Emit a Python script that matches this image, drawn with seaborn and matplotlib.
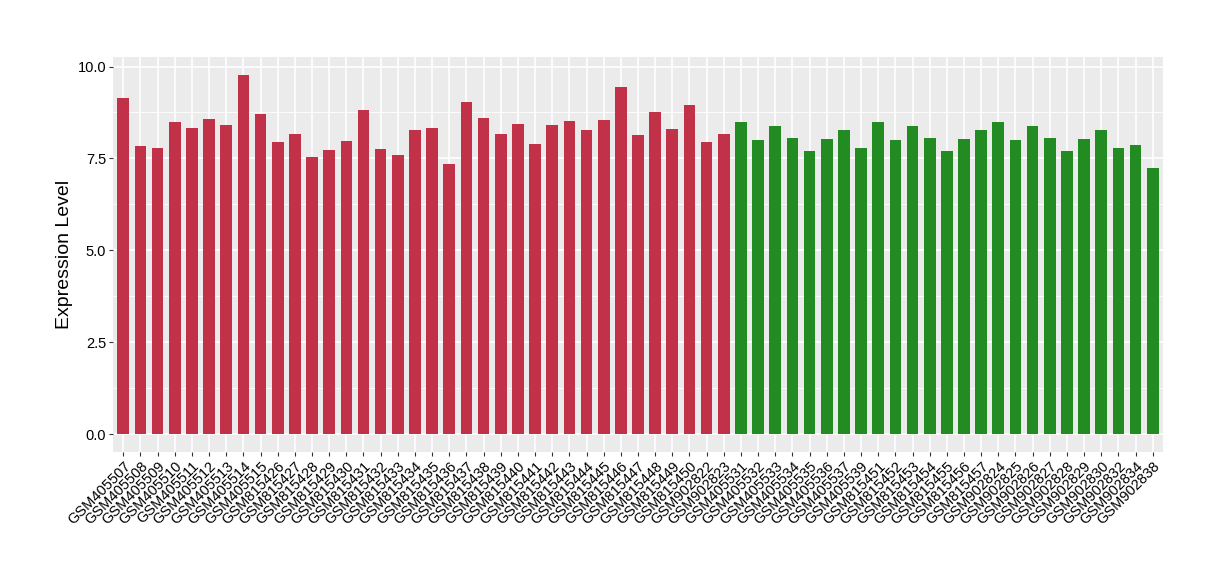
import matplotlib
matplotlib.use("Agg")
import matplotlib.pyplot as plt
import seaborn as sns
import pandas as pd
import numpy as np

# Samples (two groups)
group1_samples = [
    "GSM405507", "GSM405508", "GSM405509", "GSM405510", "GSM405511", "GSM405512",
    "GSM405513", "GSM405514", "GSM405515", "GSM815426", "GSM815427", "GSM815428",
    "GSM815429", "GSM815430", "GSM815431", "GSM815432", "GSM815433", "GSM815434",
    "GSM815435", "GSM815436", "GSM815437", "GSM815438", "GSM815439", "GSM815440",
    "GSM815441", "GSM815442", "GSM815443", "GSM815444", "GSM815445", "GSM815446",
    "GSM815447", "GSM815448", "GSM815449", "GSM815450", "GSM902822", "GSM902823",
]
group1_values = [
    9.15, 7.84, 7.79, 8.50, 8.33, 8.58, 8.41, 9.77, 8.71, 7.95, 8.17, 7.55,
    7.74, 7.98, 8.82, 7.76, 7.60, 8.28, 8.33, 7.36, 9.04, 8.61, 8.17, 8.44,
    7.90, 8.41, 8.52, 8.28, 8.55, 9.45, 8.14, 8.77, 8.31, 8.96, 7.95, 8.17,
]

group2_samples = [
    "GSM405531", "GSM405532", "GSM405533", "GSM405534", "GSM405535", "GSM405536",
    "GSM405537", "GSM405539", "GSM815451", "GSM815452", "GSM815453", "GSM815454",
    "GSM815455", "GSM815456", "GSM815457", "GSM902824", "GSM902825", "GSM902826",
    "GSM902827", "GSM902828", "GSM902829", "GSM902830", "GSM902832", "GSM902834",
    "GSM902838",
]
group2_values = [
    8.50, 8.01, 8.39, 8.06, 7.71, 8.03, 8.28, 7.79, 8.50, 8.01, 8.39, 8.06,
    7.71, 8.03, 8.28, 8.50, 8.01, 8.39, 8.06, 7.71, 8.03, 8.28, 7.79, 7.87,
    7.25,
]

colors = {"group1": "#C13249", "group2": "#228B22"}

df = pd.DataFrame({
    "sample": group1_samples + group2_samples,
    "value": group1_values + group2_values,
    "group": ["group1"] * len(group1_samples) + ["group2"] * len(group2_samples),
})

fig = plt.figure(figsize=(12.2, 5.8), dpi=100)
ax = fig.add_axes([113 / 1220, 1 - 452 / 580, (1163 - 113) / 1220, (452 - 57) / 580])
ax.set_facecolor("#EBEBEB")

sns.barplot(data=df, x="sample", y="value", hue="group", palette=colors,
            width=0.68, dodge=False, legend=False, saturation=1, ax=ax, zorder=3)

n = len(df)
ax.set_xlim(-0.6, n - 1 + 0.6)
ymax = max(df["value"])
ax.set_ylim(-0.05 * ymax, ymax * 1.05)

ax.set_yticks([0, 2.5, 5.0, 7.5, 10.0])
ax.set_yticklabels(["0.0", "2.5", "5.0", "7.5", "10.0"])
ax.set_yticks([1.25, 3.75, 6.25, 8.75], minor=True)
ax.grid(True, which="major", color="white", linewidth=1.2, zorder=0)
ax.grid(True, which="minor", axis="y", color="white", linewidth=0.6, zorder=0)
ax.set_axisbelow(True)

for s in ax.spines.values():
    s.set_visible(False)

ax.tick_params(axis="both", which="major", length=3, color="#333333",
               labelsize=10.5, labelcolor="black", pad=2)
ax.tick_params(axis="y", which="minor", length=0)
plt.setp(ax.get_xticklabels(), rotation=45, ha="right", rotation_mode="anchor",
         family="Liberation Sans")
plt.setp(ax.get_yticklabels(), family="Liberation Sans")

ax.set_xlabel("")
ax.set_ylabel("Expression Level", fontsize=14, family="Liberation Sans", labelpad=3)

fig.savefig("out.png", dpi=100)
